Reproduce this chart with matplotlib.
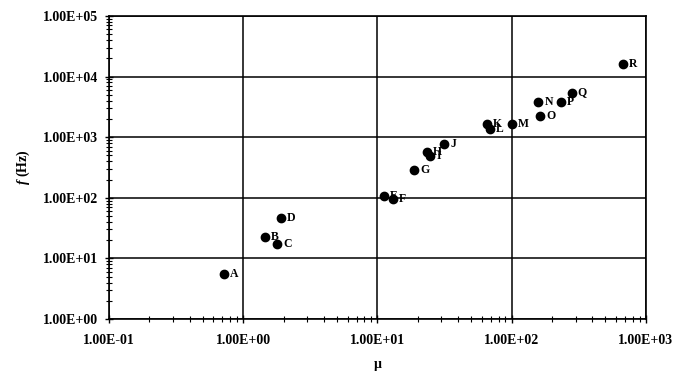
import matplotlib
matplotlib.use("Agg")
import matplotlib.pyplot as plt
from matplotlib.ticker import LogLocator, FuncFormatter, NullFormatter

plt.rcParams['font.family'] = ['Liberation Serif', 'DejaVu Serif']
plt.rcParams['mathtext.fontset'] = 'custom'
plt.rcParams['mathtext.it'] = 'Liberation Serif:italic:bold'
plt.rcParams['mathtext.rm'] = 'Liberation Serif:bold'

labels = ["A", "B", "C", "D", "E", "F", "G", "H", "I", "J",
          "K", "L", "M", "N", "O", "P", "Q", "R"]
mu = [0.72, 1.45, 1.78, 1.90, 11.2, 13.0, 18.8, 23.3, 24.7, 31.4,
      65.2, 69.0, 101, 158, 163, 232, 280, 673]
freq = [5.6, 22.5, 17.1, 45.9, 106, 96.7, 284, 563, 490, 764,
        1621, 1366, 1651, 3767, 2264, 3767, 5425, 15950]

fig = plt.figure(figsize=(6.73, 3.78), dpi=100)
ax = fig.add_axes([0.162, 0.156, 0.9594 - 0.162, 0.958 - 0.156])

ax.plot(mu, freq, 'o', color='black', ms=6, zorder=3, clip_on=False)
for lab, x, y in zip(labels, mu, freq):
    ax.annotate(lab, (x, y), xytext=(4.5, 0), textcoords='offset points',
                ha='left', va='center', fontsize=8.5, fontweight='bold',
                zorder=4)

ax.set_xscale('log')
ax.set_yscale('log')
ax.set_xlim(0.1, 1000)
ax.set_ylim(1, 1e5)

fmt = FuncFormatter(lambda v, p: f"{v:.2E}")
for axis in (ax.xaxis, ax.yaxis):
    axis.set_major_locator(LogLocator(base=10, numticks=20))
    axis.set_minor_locator(LogLocator(base=10, subs=range(2, 10), numticks=100))
    axis.set_major_formatter(fmt)
    axis.set_minor_formatter(NullFormatter())

ax.tick_params(which='major', direction='inout', length=6, width=1, color='black',
               labelsize=10)
ax.tick_params(which='minor', direction='inout', length=5, width=0.8, color='black')
ax.tick_params(axis='x', which='major', pad=8)
ax.tick_params(axis='y', which='major', pad=5)
for t in ax.get_xticklabels() + ax.get_yticklabels():
    t.set_fontweight('bold')

ax.grid(True, which='major', color='black', linewidth=1.1)
ax.set_axisbelow(True)
for s in ax.spines.values():
    s.set_color('black')
    s.set_linewidth(1.2)

ax.set_xlabel("μ", fontsize=10, fontweight='bold', labelpad=8)
ax.set_ylabel(r"$f$ (Hz)", fontsize=10, fontweight='bold', labelpad=8)

fig.savefig("out.png", dpi=100)
